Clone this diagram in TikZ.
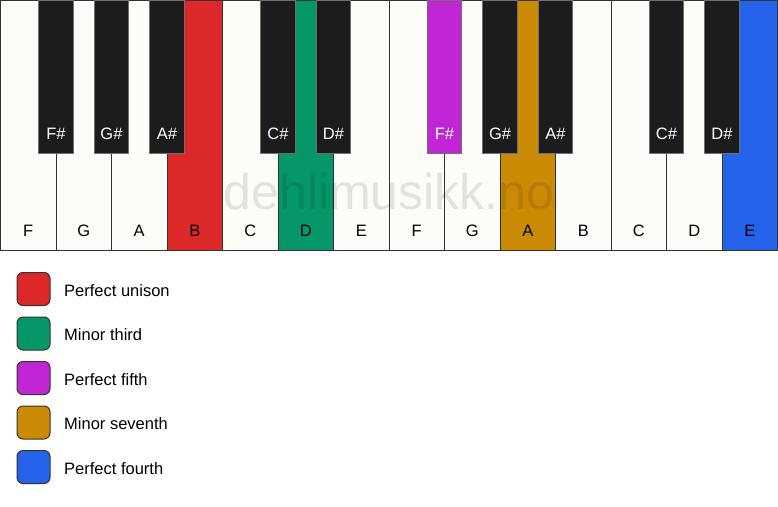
\documentclass[tikz,border=0pt]{standalone}
\usepackage{fontspec}
\setmainfont{Liberation Sans}
\definecolor{keywhite}{HTML}{FDFCF8}
\definecolor{keyblack}{HTML}{1C1C1C}
\definecolor{keyline}{HTML}{333333}
\definecolor{ired}{HTML}{DC2828}
\definecolor{igreen}{HTML}{059669}
\definecolor{ipurple}{HTML}{C026D3}
\definecolor{iamber}{HTML}{CA8A04}
\definecolor{iblue}{HTML}{2563EB}
\begin{document}
\begin{tikzpicture}[x=1pt,y=-1pt,
  whitekey/.style={draw=keyline, line width=1pt, rectangle, minimum width=55.5pt, minimum height=249.5pt, inner sep=0pt, outer sep=0pt},
  blackkey/.style={draw=keyline!70, line width=0.8pt, rectangle, minimum width=34.5pt, minimum height=153pt, inner sep=0pt, outer sep=0pt},
  wlabel/.style={font=\fontsize{16.5}{19}\selectfont, text=black, inner sep=0pt},
  blabel/.style={font=\fontsize{16.5}{19}\selectfont, text=white, inner sep=0pt},
  legbox/.style={draw=keyline, line width=1pt, rounded corners=6pt, minimum width=33pt, minimum height=33pt, inner sep=0pt},
  legtext/.style={font=\fontsize{16.5}{19}\selectfont, anchor=west, inner sep=0pt},
  watermark/.style={font=\fontsize{50}{60}\selectfont, text=black, text opacity=0.1, inner sep=0pt}
]
\useasboundingbox (0,0) rectangle (778,506);
\fill[white] (0,0) rectangle (778,506);
% white keys
\foreach \i/\n/\c in {0/F/keywhite,1/G/keywhite,2/A/keywhite,3/B/ired,4/C/keywhite,5/D/igreen,6/E/keywhite,7/F/keywhite,8/G/keywhite,9/A/iamber,10/B/keywhite,11/C/keywhite,12/D/keywhite,13/E/iblue}{
  \node[whitekey, fill=\c] (w\i) at ({0.5+\i*55.5+27.75}, 125.25) {};
  \node[wlabel] (lw\i) at ({0.5+\i*55.5+27.75}, 230.5) {\n};
}
\node[watermark] (wm) at (389, 192) {dehlimusikk.no};
% black keys
\foreach \b/\n/\c in {1/F\#/keyblack,2/G\#/keyblack,3/A\#/keyblack,5/C\#/keyblack,6/D\#/keyblack,8/F\#/ipurple,9/G\#/keyblack,10/A\#/keyblack,12/C\#/keyblack,13/D\#/keyblack}{
  \node[blackkey, fill=\c] (b\b) at ({0.5+\b*55.5}, 76.5) {};
  \node[blabel] (lb\b) at ({0.5+\b*55.5}, 133.5) {\n};
}
% legend
\foreach \k/\c/\t in {0/ired/Perfect unison,1/igreen/Minor third,2/ipurple/Perfect fifth,3/iamber/Minor seventh,4/iblue/Perfect fourth}{
  \node[legbox, fill=\c] (s\k) at (33.5, {289+\k*44.5}) {};
  \node[legtext] (t\k) at (64, {290.5+\k*44.5}) {\t};
}
\end{tikzpicture}
\end{document}
